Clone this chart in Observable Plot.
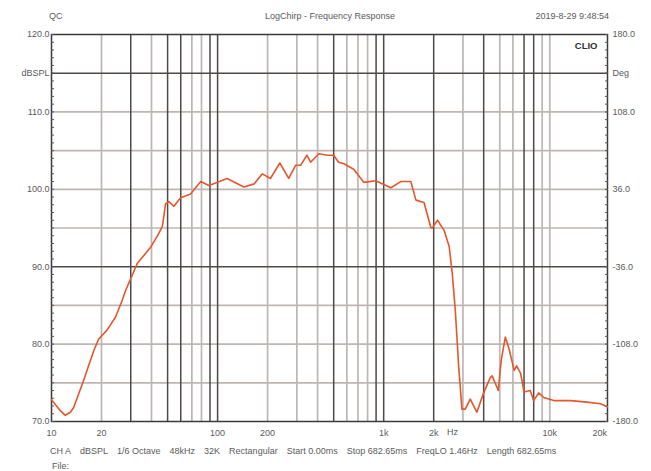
<!DOCTYPE html>
<html>
<head>
<meta charset="utf-8">
<script src="https://cdn.jsdelivr.net/npm/d3@7"></script>
<script src="https://cdn.jsdelivr.net/npm/@observablehq/plot@0.6"></script>
<style>
  html, body { margin: 0; padding: 0; background: #fff; }
  svg text { font-family: "Liberation Sans", Arial, sans-serif; }
</style>
</head>
<body>
<div id="chart"></div>
<script>
// Frequency response (Hz, dBSPL)
const freq = [10, 11.3, 12.1, 13.0, 13.6, 15.6, 18.0, 19.3, 21.6, 24.3, 26.6, 27.9, 32.8, 39.5, 44.0, 46.5, 48.6, 50.9, 54.6, 59.9, 68.8, 79.1, 88.6, 97.4, 114, 144, 166, 186, 208, 237, 268, 295, 316, 345, 363, 407, 456, 500, 535, 576, 660, 759, 895, 1105, 1267, 1457, 1563, 1750, 1920, 1960, 2110, 2310, 2480, 2590, 2700, 2830, 2960, 3100, 3320, 3640, 3980, 4390, 4500, 4900, 5100, 5400, 5650, 6110, 6320, 6680, 7000, 7630, 8000, 8570, 9200, 10580, 13400, 16700, 20200, 22200];
const spl  = [72.8, 71.4, 70.8, 71.2, 71.8, 75.3, 79.2, 80.7, 81.8, 83.5, 85.6, 86.9, 90.4, 92.5, 94.2, 95.2, 98.1, 98.4, 97.8, 98.9, 99.4, 101.0, 100.5, 100.8, 101.4, 100.3, 100.7, 102.0, 101.4, 103.4, 101.4, 103.1, 103.1, 104.4, 103.5, 104.6, 104.4, 104.4, 103.5, 103.3, 102.6, 100.9, 101.1, 100.2, 101.0, 101.0, 98.6, 98.3, 95.1, 95.0, 96.0, 94.7, 92.6, 89.0, 84.3, 77.0, 71.6, 71.6, 72.9, 71.2, 73.6, 75.7, 75.9, 74.0, 77.9, 80.9, 79.6, 76.6, 77.2, 76.2, 73.8, 74.0, 72.7, 73.7, 73.1, 72.7, 72.7, 72.5, 72.3, 71.9];

// Axis ticks and grid
const xTicks = [10, 20, 50, 100, 200, 500, 1000, 2000, 5000, 10000, 20000];
const xGridLight = [20, 40, 70, 80, 200, 300, 400, 600, 700, 800, 3000, 5000, 6000, 9000, 10000];
const xGridDark = [30, 50, 60, 90, 100, 500, 900, 1000, 2000, 4000, 7000, 8000];
const yTicks = [120, 115, 110, 100, 90, 80, 70];
const yGridLight = [110, 105, 100, 95, 85, 80, 75];
const yGridDark = [115, 90];
const yMinor = d3.range(70, 121, 1);
const degLabels = {120: "180.0", 115: "Deg", 110: "108.0", 100: "36.0", 90: "-36.0", 80: "-108.0", 70: "-180.0"};
const dbLabels = {120: "120.0", 115: "dBSPL", 110: "110.0", 100: "100.0", 90: "90.0", 80: "80.0", 70: "70.0"};

const header = {left: "QC", center: "LogChirp - Frequency Response", right: "2019-8-29 9:48:54"};
const footerItems = ["CH A", "dBSPL", "1/6 Octave", "48kHz", "32K", "Rectangular", "Start 0.00ms", "Stop 682.65ms", "FreqLO 1.46Hz", "Length 682.65ms"];

const data = freq.map((f, i) => ({f, db: spl[i]}));

const textColor = "#5a5a5a";
const gridLight = "#bdb6b2";
const gridDark = "#4e4946";

const chart = Plot.plot({
  width: 651,
  height: 471,
  marginLeft: 51,
  marginRight: 44,
  marginTop: 34,
  marginBottom: 50,
  style: {fontFamily: "Liberation Sans, Arial, sans-serif", fontSize: "9px", background: "#fff"},
  x: {type: "log", domain: [10, 22260]},
  y: {domain: [70, 120]},
  marks: [
    Plot.ruleY(yGridLight, {stroke: gridLight, strokeWidth: 1.7}),
    Plot.ruleX(xGridLight, {stroke: gridLight, strokeWidth: 1.7}),
    Plot.ruleX(xGridDark, {stroke: gridDark, strokeWidth: 1.5}),
    Plot.ruleY(yGridDark, {stroke: gridDark, strokeWidth: 1.5}),
    Plot.frame({stroke: "#3a3a3a", strokeWidth: 1.5}),
    Plot.axisY(yMinor, {anchor: "left", tickSize: 3, dx: 3, text: null, stroke: "#555", label: null}),
    Plot.axisY(yMinor, {anchor: "right", tickSize: 3, dx: -3, text: null, stroke: "#555", label: null}),
    Plot.axisY(yTicks, {anchor: "left", tickSize: 0, tickPadding: 2, tickFormat: d => dbLabels[d], fill: textColor, label: null}),
    Plot.axisY(yTicks, {anchor: "right", tickSize: 0, tickPadding: 5, tickFormat: d => degLabels[d], fill: textColor, label: null}),
    Plot.axisX(xTicks, {anchor: "bottom", tickSize: 0, tickPadding: 8, tickFormat: d => d >= 1000 ? (d / 1000) + "k" : String(d), fill: textColor, label: null}),
    Plot.text(["Hz"], {x: 2600, frameAnchor: "bottom", dy: 13, text: d => d, fill: textColor}),
    Plot.line(data, {x: "f", y: "db", stroke: "#e5562c", strokeWidth: 1.6, curve: "linear"}),
    Plot.text(["CLIO"], {frameAnchor: "top-right", dx: -10, dy: 8, text: d => d, fill: "#333", fontWeight: "bold", fontSize: 9.5, fontFamily: "DejaVu Sans, sans-serif"})
  ]
});

document.getElementById("chart").appendChild(chart);

const svg = d3.select(chart);
const g = svg.append("g").attr("fill", textColor).attr("font-size", 9).attr("text-anchor", "start");
g.append("text").attr("x", 49).attr("y", 19).text(header.left);
g.append("text").attr("x", 330).attr("y", 19).attr("text-anchor", "middle").text(header.center);
g.append("text").attr("x", 609).attr("y", 19).attr("text-anchor", "end").text(header.right);

// footer: items flowed left to right with even gaps
let cx = 50;
footerItems.forEach((t) => {
  const node = g.append("text").attr("x", cx).attr("y", 454).text(t).node();
  cx += node.getComputedTextLength() + 9;
});
g.append("text").attr("x", 52).attr("y", 469).text("File:");
</script>
</body>
</html>
